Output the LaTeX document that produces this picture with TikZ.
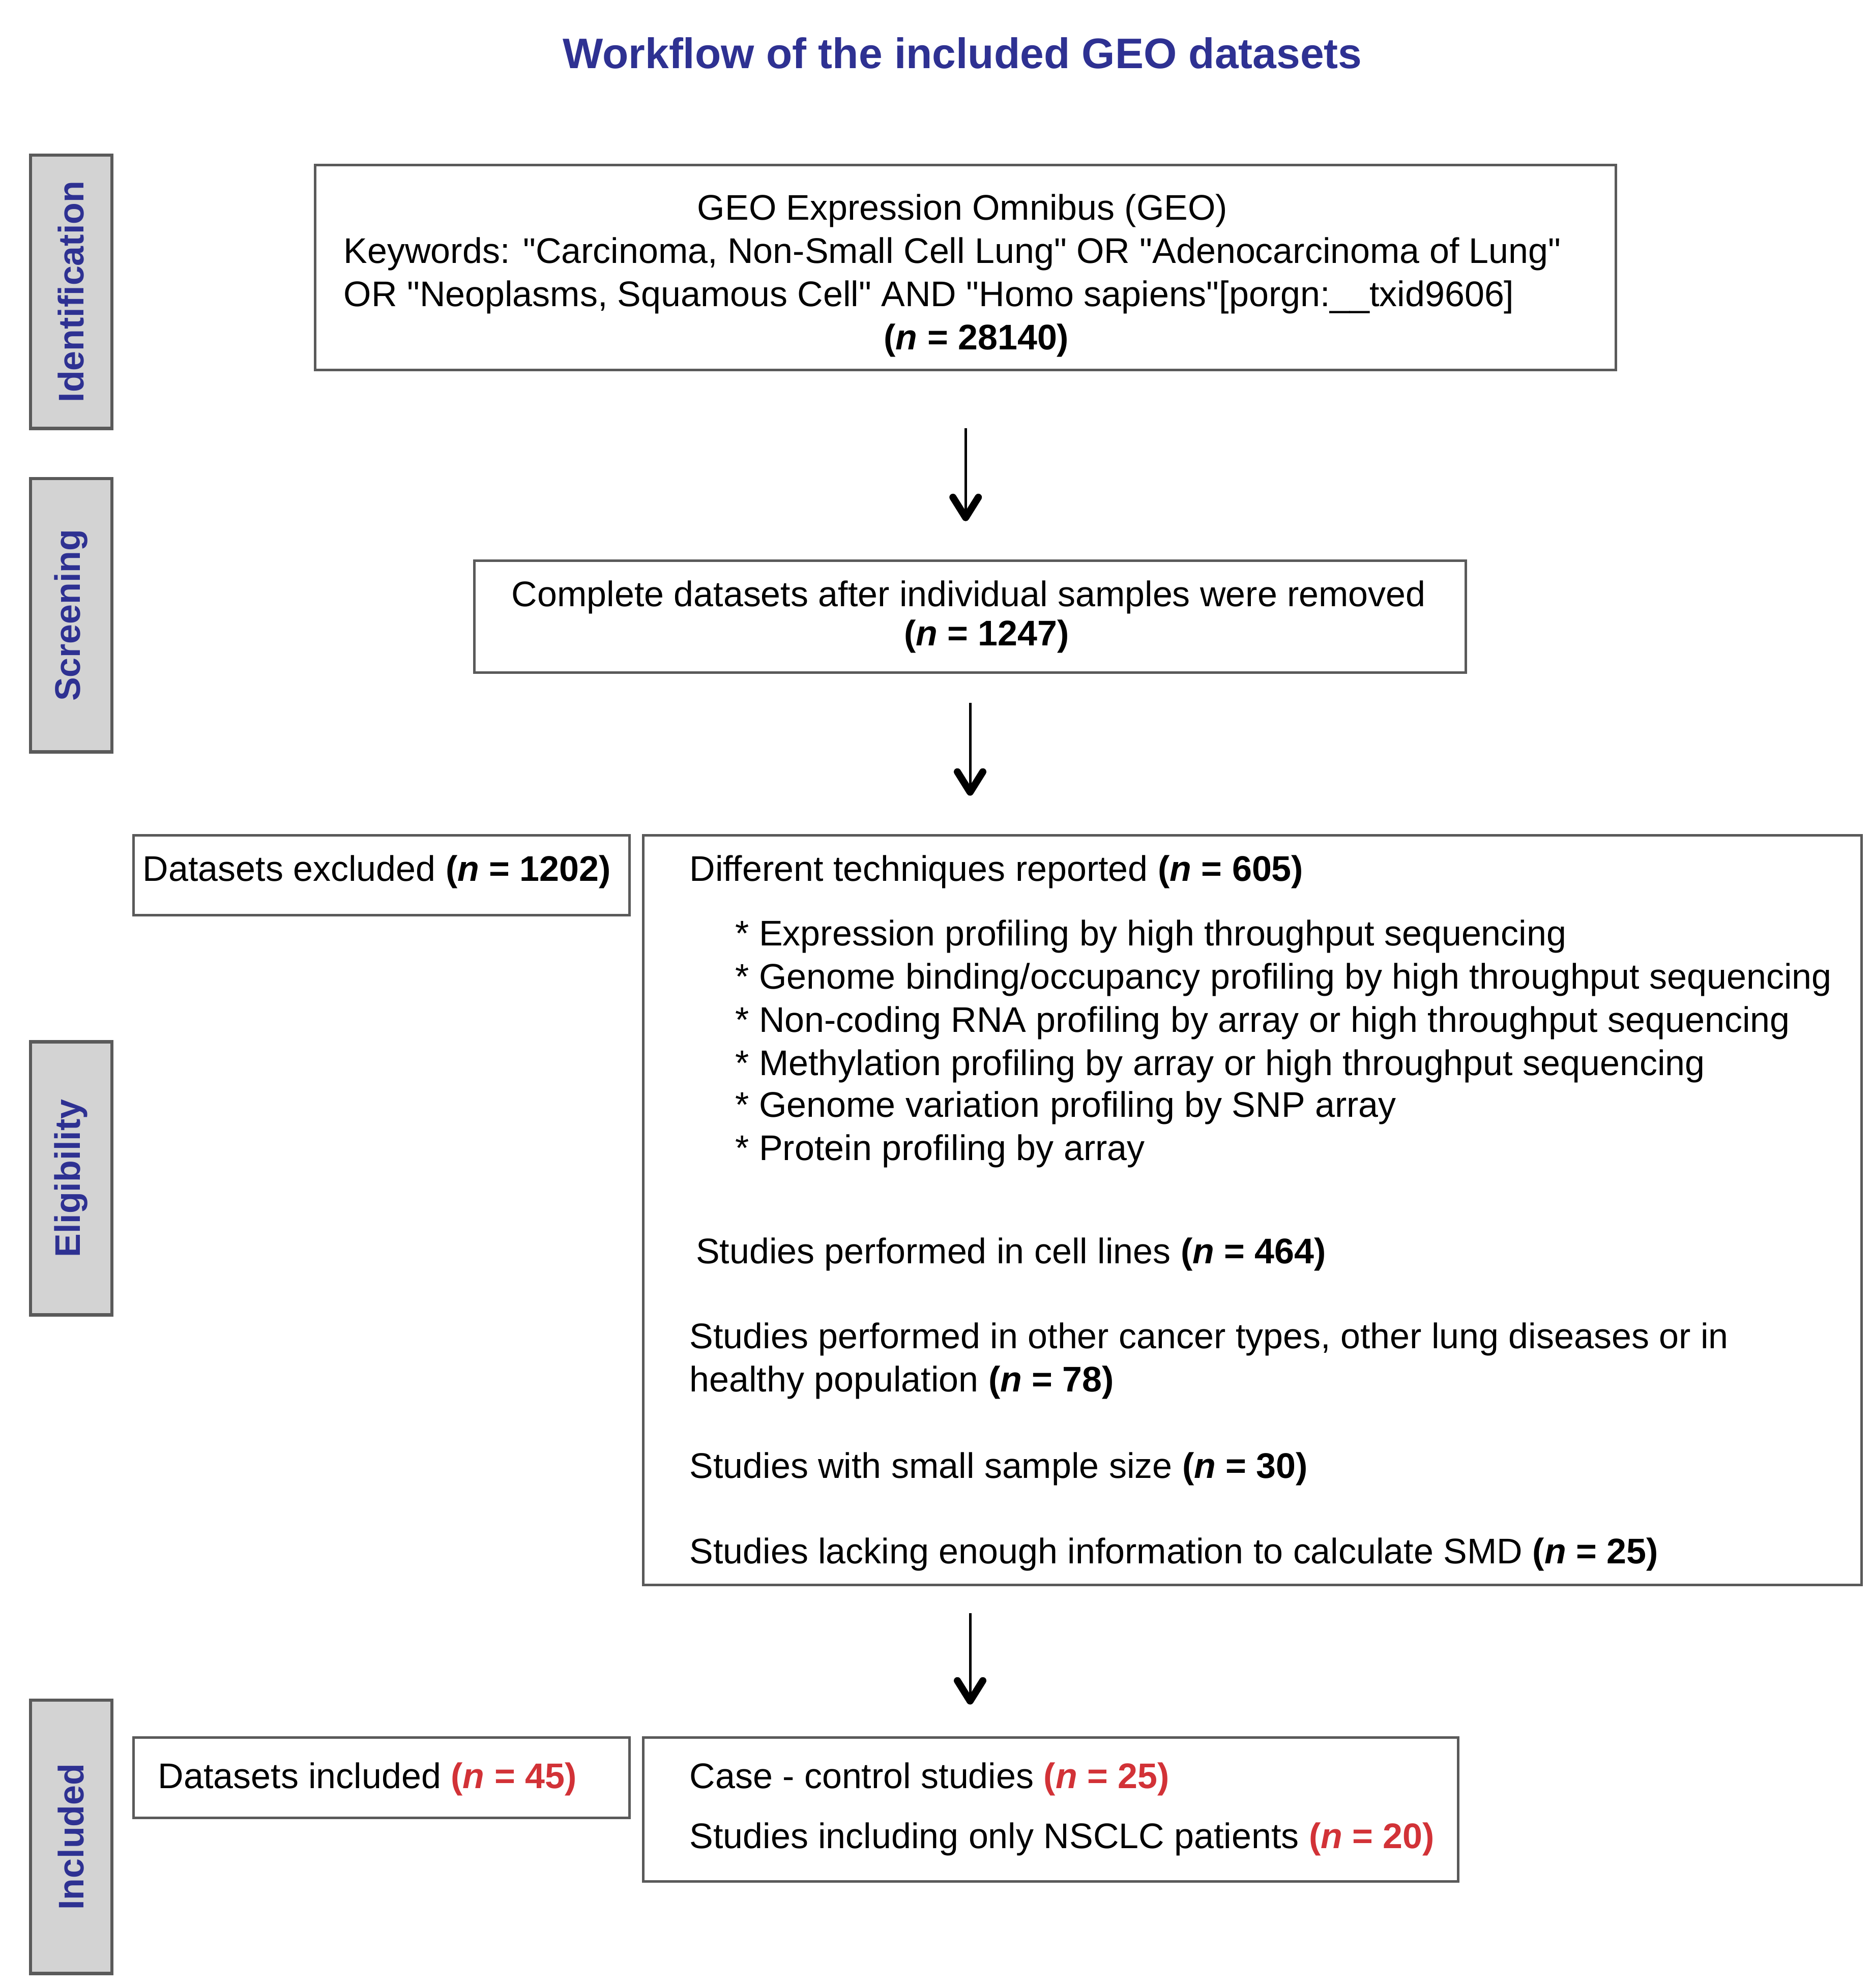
\documentclass[tikz,border=0pt]{standalone}
\usepackage{fontspec}
\setmainfont{Liberation Sans}[Ligatures=TeXOff]
\usetikzlibrary{arrows.meta,calc}
\definecolor{titleblue}{RGB}{46,49,146}
\definecolor{numred}{RGB}{210,50,55}
\definecolor{labelgray}{RGB}{211,211,211}
\definecolor{edgegray}{RGB}{90,90,90}
\newcommand{\nval}[1]{\textbf{(\textit{n} = #1)}}
\newcommand{\rval}[1]{\textcolor{numred}{\textbf{(\textit{n} = #1)}}}
\begin{document}
\begin{tikzpicture}[x=0.5pt,y=-0.5pt,
  txt/.style={font=\fontsize{14}{17}\selectfont, inner sep=0pt, anchor=base west},
  ctxt/.style={txt, anchor=base},
  box/.style={draw=edgegray, line width=1pt, fill=white, anchor=north west, inner sep=0pt},
  phase/.style={draw=edgegray, line width=1.3pt, fill=labelgray, rotate=90, minimum width=107.5pt, minimum height=32pt, inner sep=0pt, font=\fontsize{14}{17}\selectfont\bfseries, text=titleblue},
  arr/.style={draw=black, line width=1pt, -{Straight Barb[length=8pt,width=10pt,line width=2.8pt,round]}}
]
\useasboundingbox (0,0) rectangle (1472,1564);
\node[font=\fontsize{16.8}{20}\selectfont\bfseries, text=titleblue] (title) at (757,42) {Workflow of the included GEO datasets};

% phase labels
\node[phase] (pid) at (56,229.5) {Identification};
\node[phase] (psc) at (56,484) {Screening};
\node[phase] (pel) at (56,927) {Eligibility};
\node[phase] (pin) at (56,1445) {Included};

% boxes
\node[box, minimum width=511.5pt, minimum height=80.5pt] (geo) at (247,129) {};
\node[box, minimum width=390pt, minimum height=44pt] (scr) at (372,440) {};
\node[box, minimum width=195pt, minimum height=31.5pt] (excl) at (104,656) {};
\node[box, minimum width=479pt, minimum height=295pt] (big) at (505,656) {};
\node[box, minimum width=195pt, minimum height=31.5pt] (incl) at (104,1366) {};
\node[box, minimum width=320.5pt, minimum height=56.5pt] (case) at (505,1366) {};

% texts
\node[ctxt] (g1) at (757,173) {GEO Expression Omnibus (GEO)};
\node[txt] (g2) at (270,207) {Keywords: "Carcinoma, Non-Small Cell Lung" OR "Adenocarcinoma of Lung"};
\node[txt] (g3) at (270,241) {OR "Neoplasms, Squamous Cell" AND "Homo sapiens"[porgn:\_\_txid9606]};
\node[ctxt] (g4) at (768,275) {\nval{28140}};

\node[ctxt] (s1) at (762,477) {Complete datasets after individual samples were removed};
\node[ctxt] (s2) at (776,508) {\nval{1247}};

\node[txt] (e1) at (112,693) {Datasets excluded \nval{1202}};

\node[txt] (b0) at (542,693) {Different techniques reported \nval{605}};
\node[txt] (b1) at (578,744) {* Expression profiling by high throughput sequencing};
\node[txt] (b2) at (578,778) {* Genome binding/occupancy profiling by high throughput sequencing};
\node[txt] (b3) at (578,812) {* Non-coding RNA profiling by array or high throughput sequencing};
\node[txt] (b4) at (578,846) {* Methylation profiling by array or high throughput sequencing};
\node[txt] (b5) at (578,879) {* Genome variation profiling by SNP array};
\node[txt] (b6) at (578,913) {* Protein profiling by array};
\node[txt] (c1) at (547,994) {Studies performed in cell lines \nval{464}};
\node[txt] (c2) at (542,1061) {Studies performed in other cancer types, other lung diseases or in};
\node[txt] (c3) at (542,1095) {healthy population \nval{78}};
\node[txt] (c4) at (542,1163) {Studies with small sample size \nval{30}};
\node[txt] (c5) at (542,1230) {Studies lacking enough information to calculate SMD \nval{25}};

\node[txt] (i1) at (124,1407) {Datasets included \rval{45}};
\node[txt] (k1) at (542,1407) {Case - control studies \rval{25}};
\node[txt] (k2) at (542,1454) {Studies including only NSCLC patients \rval{20}};

% arrows
\draw[arr, shorten <=22.5pt, shorten >=15pt] (geo.south) -- (geo.south |- scr.north);
\draw[arr, shorten <=11.5pt, shorten >=15pt] (scr.south) -- (scr.south |- big.north);
\draw[arr, shorten <=10.5pt, shorten >=12.5pt] (scr.south |- big.south) -- (scr.south |- case.north);
\end{tikzpicture}
\end{document}
